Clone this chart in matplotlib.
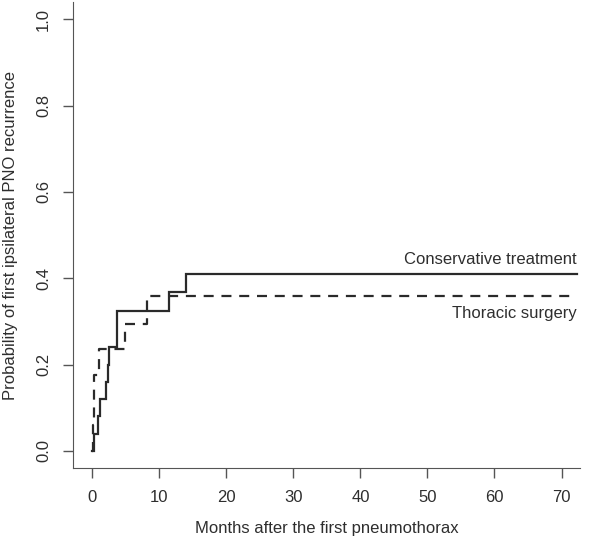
import matplotlib
matplotlib.use("Agg")
import matplotlib.pyplot as plt

plt.rcParams['font.family'] = ['Liberation Sans', 'DejaVu Sans']

# Conservative treatment (solid) step curve
cons_t = [0.0, 0.3, 0.8, 1.15, 2.0, 2.3, 2.5, 3.7, 11.4, 14.0, 72.3]
cons_p = [0.0, 0.04, 0.08, 0.12, 0.16, 0.20, 0.24, 0.325, 0.368, 0.41, 0.41]

# Thoracic surgery (dashed) step curve
surg_t = [0.0, 0.1, 0.2, 0.3, 1.0, 4.9, 8.2, 72.3]
surg_p = [0.0, 0.059, 0.118, 0.176, 0.235, 0.295, 0.36, 0.36]

x_ticks = [0, 10, 20, 30, 40, 50, 60, 70]
y_ticks = [0.0, 0.2, 0.4, 0.6, 0.8, 1.0]
y_tick_labels = ["0.0", "0.2", "0.4", "0.6", "0.8", "1.0"]

labels = ["Conservative treatment", "Thoracic surgery"]
label_y = [0.444, 0.318]

xlabel = "Months after the first pneumothorax"
ylabel = "Probability of first ipsilateral PNO recurrence"

line_col = "#2a2a2a"
axis_col = "#555555"
text_col = "#2e2e2e"
fs = 12

fig = plt.figure(figsize=(5.97, 5.38), dpi=100)
ax = fig.add_axes([0.123, 0.130, 0.849, 0.866])

ax.step(cons_t, cons_p, where='post', color=line_col, lw=1.6, solid_joinstyle='miter')
ax.step(surg_t, surg_p, where='post', color=line_col, lw=1.6, linestyle=(0, (4.5, 3.5)))

ax.text(72.3, label_y[0], labels[0], ha='right', va='center', fontsize=fs, color=text_col)
ax.text(72.3, label_y[1], labels[1], ha='right', va='center', fontsize=fs, color=text_col)

ax.set_xlim(-2.8, 72.8)
ax.set_ylim(-0.04, 1.04)

for s in ['top', 'right']:
    ax.spines[s].set_visible(False)
ax.spines['left'].set_color(axis_col)
ax.spines['bottom'].set_color(axis_col)

ax.set_xticks(x_ticks)
ax.set_xticklabels([str(v) for v in x_ticks])
ax.set_yticks(y_ticks)
ax.set_yticklabels(y_tick_labels, rotation=90, va='center')
ax.tick_params(axis='both', direction='out', length=7, width=1, color=axis_col,
               labelcolor=text_col, labelsize=fs, pad=9)

ax.set_xlabel(xlabel, fontsize=fs, color=text_col, labelpad=11)
ax.set_ylabel(ylabel, fontsize=fs, color=text_col, labelpad=13)

fig.savefig("out.png", dpi=100)
